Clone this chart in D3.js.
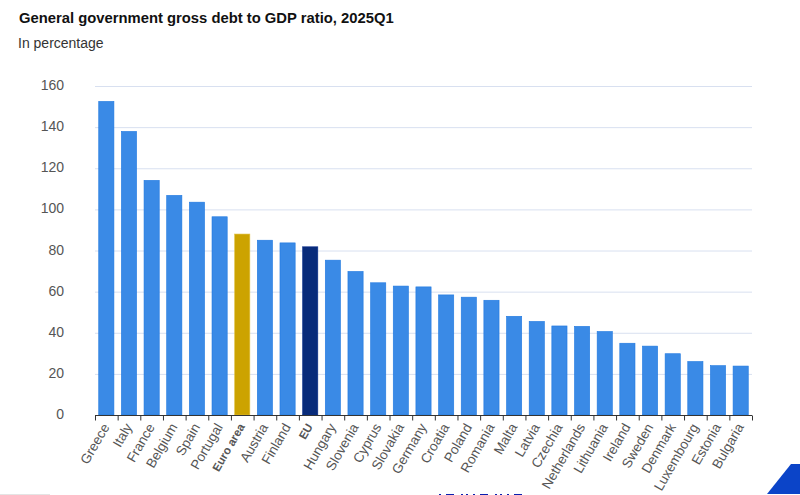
<!DOCTYPE html>
<html><head><meta charset="utf-8">
<script src="https://cdn.jsdelivr.net/npm/d3@7/dist/d3.min.js"></script>
<style>html,body{margin:0;padding:0;background:#fff;overflow:hidden}svg{display:block;font-family:"Liberation Sans",Arial,sans-serif}</style>
</head><body><svg id="c" width="800" height="495"></svg>
<script>
const categories=["Greece","Italy","France","Belgium","Spain","Portugal","Euro area","Austria","Finland","EU","Hungary","Slovenia","Cyprus","Slovakia","Germany","Croatia","Poland","Romania","Malta","Latvia","Czechia","Netherlands","Lithuania","Ireland","Sweden","Denmark","Luxembourg","Estonia","Bulgaria"];
const values=[152.5,137.9,114.1,106.8,103.5,96.4,88,85,83.7,81.8,75.3,69.8,64.3,62.7,62.3,58.4,57.3,55.8,48,45.5,43.3,43.1,40.6,34.9,33.5,29.8,26,24,23.8];
const yTicks=[0,20,40,60,80,100,120,140,160];
const titleText="General government gross debt to GDP ratio, 2025Q1";
const subtitleText="In percentage";
const colorFor=c=>c==="Euro area"?"#cca300":c==="EU"?"#082b7a":"#3a8ae6";
const strokeFor=c=>c==="Euro area"?"#e0c040":c==="EU"?"#0a2f8a":"#1f78e0";
const svg=d3.select("#c");
const x=d3.scaleBand().domain(categories).range([95,752]).paddingInner(0.33).paddingOuter(0.165);
const y=d3.scaleLinear().domain([0,160]).range([415,86]);
svg.append("text").attr("x",19).attr("y",23).attr("font-size",14.8).attr("font-weight","bold").attr("fill","#111").text(titleText);
svg.append("text").attr("x",18).attr("y",48).attr("font-size",14).attr("fill","#333").text(subtitleText);
svg.append("g").selectAll("line").data(yTicks.filter(d=>d>0)).join("line")
 .attr("x1",95).attr("x2",752).attr("y1",d=>y(d)+.5).attr("y2",d=>y(d)+.5).attr("stroke","#d8e0f0");
svg.append("g").selectAll("text").data(yTicks).join("text")
 .attr("x",64).attr("y",d=>y(d)+4).attr("text-anchor","end").attr("font-size",14).attr("fill","#555").text(d=>d);
svg.append("g").selectAll("rect").data(categories).join("rect")
 .attr("x",d=>x(d)).attr("width",x.bandwidth())
 .attr("y",(d,i)=>y(values[i])).attr("height",(d,i)=>y(0)-y(values[i]))
 .attr("fill",colorFor).attr("stroke",strokeFor).attr("stroke-width",.6);
const step=x.step();
const ax=svg.append("g").attr("transform","translate(0,415.5)");
ax.append("line").attr("x1",95).attr("x2",752).attr("stroke","#333");
ax.selectAll("line.t").data(d3.range(categories.length+1)).join("line").attr("class","t")
 .attr("x1",i=>95+i*step+.5).attr("x2",i=>95+i*step+.5).attr("y1",0).attr("y2",5).attr("stroke","#333");
ax.selectAll("text").data(categories).join("text")
 .attr("transform",d=>`translate(${x(d)+x.bandwidth()/2-0.5},9) rotate(-60)`)
 .attr("text-anchor","end").attr("font-size",d=>d==="Euro area"||d==="EU"?11.5:13.5)
 .attr("font-weight",d=>d==="Euro area"||d==="EU"?"bold":"normal")
 .attr("dy","0.35em").attr("fill","#555").text(d=>d);
// page furniture cropped by the bottom edge
svg.append("polygon").attr("points","791,464 800,464 800,494 767,494").attr("fill","#0b44c8");
svg.append("line").attr("x1",0).attr("x2",50).attr("y1",494.5).attr("y2",494.5).attr("stroke","#e4e4e4");
svg.append("line").attr("x1",439).attr("x2",524).attr("y1",494.5).attr("y2",494.5).attr("stroke","#0a1fb0").attr("stroke-dasharray","2 5 8 7 2 3 2 5");
</script></body></html>
